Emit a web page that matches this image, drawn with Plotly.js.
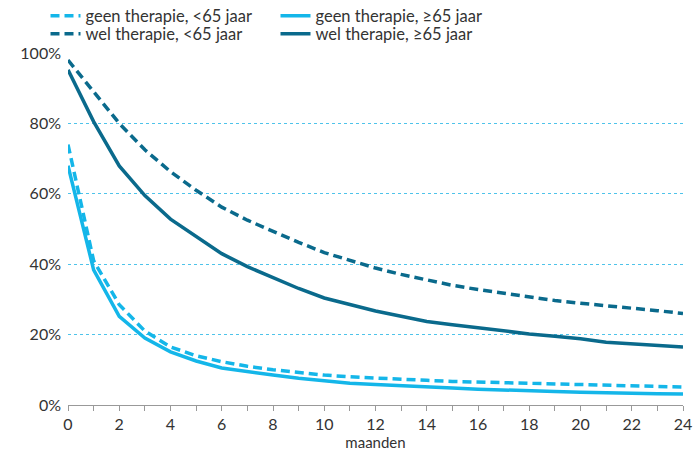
<!DOCTYPE html>
<html>
<head>
<meta charset="utf-8">
<script src="https://cdn.plot.ly/plotly-3.0.1.min.js"></script>
<style>html,body{margin:0;padding:0;background:#fff;}#chart{width:693px;height:453px;}</style>
</head>
<body>
<div id="chart"></div>
<script>
var months = [0,1,2,3,4,5,6,7,8,9,10,11,12,13,14,15,16,17,18,19,20,21,22,23,24];
var geenJong = [74,41,28.5,21,16.5,14,12.3,11,10,9.2,8.5,8,7.6,7.3,7,6.7,6.5,6.3,6.2,6,5.8,5.6,5.4,5.2,5.1];
var geenOud  = [68,38.4,25.2,19,15.1,12.5,10.5,9.4,8.5,7.6,6.8,6.2,5.8,5.4,5.1,4.8,4.5,4.2,4,3.8,3.6,3.4,3.3,3.2,3.1];
var welJong  = [98,89,80,72.5,66.3,61,56.2,52.5,49.3,46.2,43.3,41,38.9,37.1,35.5,34,32.8,31.7,30.6,29.7,28.9,28.1,27.5,26.8,26];
var welOud   = [95.2,80.5,67.9,59.5,52.8,47.8,43,39.3,36.1,33.1,30.4,28.6,26.7,25.2,23.7,22.8,21.9,21,20.2,19.5,18.8,17.8,17.3,17,16.5];
var names = ['geen therapie, <65 jaar','geen therapie, \u226565 jaar','wel therapie, <65 jaar','wel therapie, \u226565 jaar'];

var light = '#14B6E9', dark = '#0A6A8C';
var dashPat = '9px,5px';
var traces = [
  {x: months, y: geenJong, name: names[0], mode:'lines', line:{color:light, width:3.5, dash:dashPat}, legend:'legend'},
  {x: months, y: geenOud,  name: names[1], mode:'lines', line:{color:light, width:3.5}, legend:'legend'},
  {x: months, y: welJong,  name: names[2], mode:'lines', line:{color:dark, width:3.5, dash:dashPat}, legend:'legend2'},
  {x: months, y: welOud,   name: names[3], mode:'lines', line:{color:dark, width:3.5}, legend:'legend2'}
];
var legCommon = {orientation:'h', xanchor:'left', yanchor:'middle', xref:'container', yref:'container',
  font:{family:'Lato, sans-serif', size:16.5, color:'#333'}, bgcolor:'rgba(0,0,0,0)',
  entrywidth:185, entrywidthmode:'pixels', itemwidth:30, tracegroupgap:0};
var layout = {
  width:693, height:453,
  margin:{l:68, r:10, t:53, b:48, autoexpand:false},
  paper_bgcolor:'#fff', plot_bgcolor:'#fff',
  font:{family:'Lato, sans-serif', size:14, color:'#333'},
  showlegend:true,
  legend: Object.assign({}, legCommon, {x:45.5/693, y:1-16/453}),
  legend2: Object.assign({}, legCommon, {x:45.5/693, y:1-34/453}),
  xaxis:{range:[0,24], dtick:2, tick0:0, showgrid:false, zeroline:false, showline:true, linecolor:'#999', linewidth:1,
         ticks:'outside', ticklen:5, tickcolor:'#999', tickfont:{size:16, color:'#333'},
         minor:{dtick:1, ticks:'outside', ticklen:5, tickcolor:'#999', showgrid:false},
         title:{text:'maanden', font:{size:15, color:'#333'}, standoff:0}},
  yaxis:{range:[0,100], dtick:20, ticksuffix:'%', showgrid:true, gridcolor:'#4EC3EA', griddash:'dot', gridwidth:1,
         zeroline:false, showline:false, ticks:'', tickfont:{size:16, color:'#333'}, ticklabelstandoff:6}
};
Plotly.newPlot('chart', traces, layout, {displayModeBar:false, staticPlot:true});
</script>
</body>
</html>
